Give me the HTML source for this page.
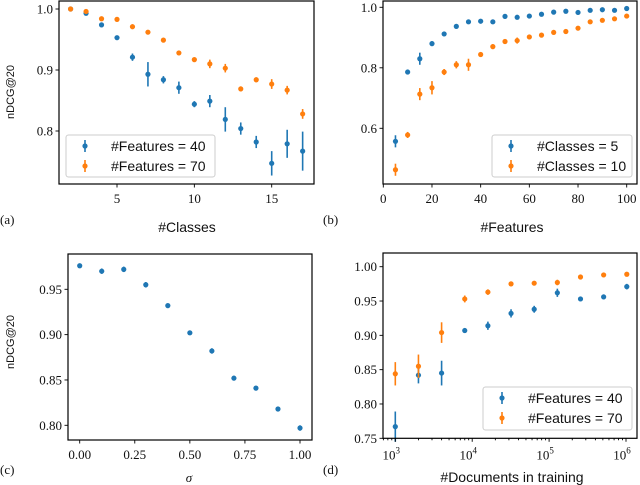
<!DOCTYPE html>
<html><head><meta charset="utf-8"><style>
html,body{margin:0;padding:0;background:#fff}
svg{display:block}
text{fill:#111}
.tk{font-family:"Liberation Serif",serif;font-size:13px}
.sn{font-family:"Liberation Sans",sans-serif}
</style></head><body>
<svg id="fig" width="640" height="485" viewBox="0 0 640 485" xmlns="http://www.w3.org/2000/svg"></svg>
<script>
// Panel a
const aX = [2,3,4,5,6,7,8,9,10,11,12,13,14,15,16,17];
const aBlue = [1.0,0.993,0.974,0.953,0.921,0.893,0.884,0.871,0.844,0.849,0.819,0.804,0.782,0.747,0.779,0.767];
const aBlueErr = [0.002,0.003,0.002,0.002,0.006,0.02,0.006,0.01,0.005,0.01,0.02,0.01,0.01,0.02,0.023,0.032];
const aOrange = [1.0,0.996,0.984,0.983,0.971,0.962,0.949,0.928,0.917,0.910,0.903,0.869,0.884,0.877,0.867,0.828];
const aOrangeErr = [0.002,0.003,0.003,0.002,0.004,0.003,0.002,0.003,0.003,0.007,0.007,0.004,0.004,0.008,0.007,0.008];
const aXTicks = [5,10,15];
const aYTicks = ["0.8","0.9","1.0"];
// Panel b
const bX = [5,10,15,20,25,30,35,40,45,50,55,60,65,70,75,80,85,90,95,100];
const bBlue = [0.557,0.786,0.830,0.880,0.912,0.937,0.952,0.954,0.952,0.970,0.967,0.971,0.977,0.984,0.987,0.983,0.990,0.992,0.990,0.996];
const bBlueErr = [0.02,0.008,0.02,0.008,0.003,0.003,0.003,0.003,0.003,0.003,0.003,0.003,0.003,0.003,0.003,0.003,0.003,0.003,0.003,0.003];
const bOrange = [0.463,0.578,0.713,0.734,0.786,0.810,0.810,0.844,0.870,0.887,0.890,0.902,0.908,0.917,0.920,0.931,0.952,0.957,0.962,0.971];
const bOrangeErr = [0.02,0.01,0.02,0.022,0.01,0.012,0.02,0.004,0.008,0.004,0.01,0.004,0.005,0.004,0.005,0.004,0.004,0.004,0.004,0.004];
const bXTicks = [0,20,40,60,80,100];
const bYTicks = ["0.6","0.8","1.0"];
// Panel c
const cX = [0,0.1,0.2,0.3,0.4,0.5,0.6,0.7,0.8,0.9,1.0];
const cBlue = [0.976,0.970,0.972,0.955,0.932,0.902,0.882,0.852,0.841,0.818,0.797];
const cBlueErr = [0.002,0.003,0.003,0.003,0.002,0.002,0.003,0.002,0.002,0.002,0.003];
const cXTicks = ["0.00","0.25","0.50","0.75","1.00"];
const cYTicks = ["0.80","0.85","0.90","0.95"];
// Panel d
const dX = [1000,2000,4000,8000,16000,32000,64000,128000,256000,512000,1024000];
const dBlue = [0.767,0.842,0.845,0.907,0.914,0.932,0.938,0.962,0.953,0.956,0.971];
const dBlueErr = [0.022,0.012,0.018,0.003,0.006,0.006,0.005,0.006,0.003,0.003,0.004];
const dOrange = [0.844,0.855,0.904,0.953,0.963,0.975,0.976,0.977,0.985,0.988,0.989];
const dOrangeErr = [0.017,0.017,0.015,0.005,0.004,0.002,0.003,0.004,0.002,0.002,0.002];
const dXTicks = [3,4,5,6];
const dYTicks = ["0.75","0.80","0.85","0.90","0.95","1.00"];

const NS="http://www.w3.org/2000/svg";
const svg=document.getElementById('fig');
const BLUE="#1f77b4", ORANGE="#ff7f0e";
function mk(tag,attrs,parent){const e=document.createElementNS(NS,tag);for(const k in attrs)e.setAttribute(k,attrs[k]);(parent||svg).appendChild(e);return e;}
function lin(d0,d1,r0,r1){return v=>r0+(v-d0)*(r1-r0)/(d1-d0);}

function series(g,xs,ys,es,sx,sy,color,name){
  xs.forEach((x,i)=>{
    const cx=sx(x), cy=sy(ys[i]);
    const l=mk('line',{x1:cx,x2:cx,y1:sy(ys[i]-es[i]),y2:sy(ys[i]+es[i]),stroke:color,'stroke-width':1.6},g);
    
    
    const c=mk('circle',{cx:cx,cy:cy,r:2.6,fill:color},g);
    
    
  });
}
function frame(g,x0,y0,x1,y1){
  const r=mk('rect',{x:x0,y:y0,width:x1-x0,height:y1-y0,fill:'none',stroke:'#000','stroke-width':1.2},g);
  
  
}
function xtick(g,x,yb,label,len){
  mk('line',{x1:x,x2:x,y1:yb,y2:yb+(len||3.5),stroke:'#000','stroke-width':0.9},g);
  if(label!==null){const t=mk('text',{x:x,y:yb+19,'text-anchor':'middle',class:'tk'},g);t.textContent=label;
  }
}
function ytick(g,y,xl,label){
  mk('line',{x1:xl-3.5,x2:xl,y1:y,y2:y,stroke:'#000','stroke-width':0.9},g);
  const t=mk('text',{x:xl-6,y:y+4.5,'text-anchor':'end',class:'tk'},g);t.textContent=label;
  
}
function text(g,x,y,s,cls,name,extra){
  const t=mk('text',Object.assign({x:x,y:y,class:cls},extra||{}),g);t.textContent=s;
  return t;
}
function legend(g,x0,y0,x1,y1,labels){
  const r=mk('rect',{x:x0,y:y0,width:x1-x0,height:y1-y0,rx:2.5,fill:'#fff','fill-opacity':0.8,stroke:'#ccc','stroke-width':1},g);
  
  const cols=[BLUE,ORANGE];
  labels.forEach((lb,i)=>{
    const cy=y0+11+i*20, cx=x0+19;
    const e=mk('g',{},g);
    
    
    mk('line',{x1:cx,x2:cx,y1:cy-6,y2:cy+6,stroke:cols[i],'stroke-width':1.6},e);
    mk('circle',{cx:cx,cy:cy,r:2.6,fill:cols[i]},e);
    text(e,x0+45,cy+5,lb,'sn','legend-label',{'font-size':'14px'});
  });
}

// ---------- Panel a ----------
{
const g=mk('g',{});
const X0=59,X1=314,Y0=1,Y1=184;
const sx=lin(5,15,117,271.7), sy=lin(1.0,0.8,9,131);
series(g,aX,aBlue,aBlueErr,sx,sy,BLUE,'a-features-40');
series(g,aX,aOrange,aOrangeErr,sx,sy,ORANGE,'a-features-70');
frame(g,X0,Y0,X1,Y1);
aXTicks.forEach(t=>xtick(g,sx(t),Y1,String(t)));
aYTicks.forEach(t=>ytick(g,sy(parseFloat(t)),X0,t));
legend(g,66,135,215,177,["#Features = 40","#Features = 70"]);
text(g,187,232,"#Classes",'sn','x-axis-title',{'text-anchor':'middle','font-size':'14px'});
text(g,14,92,"nDCG@20",'sn','y-axis-title',{'text-anchor':'middle','font-size':'11px',transform:'rotate(-90 14 92)'});
text(g,0,224,"(a)",'tk','panel-label',{'font-size':'13px'});
}
// ---------- Panel b ----------
{
const g=mk('g',{});
const X0=383,X1=637,Y0=1,Y1=184;
const sx=lin(0,100,383.3,626.7), sy=lin(1.0,0.6,7.3,128.3);
series(g,bX,bBlue,bBlueErr,sx,sy,BLUE,'b-classes-5');
series(g,bX,bOrange,bOrangeErr,sx,sy,ORANGE,'b-classes-10');
frame(g,X0,Y0,X1,Y1);
bXTicks.forEach(t=>xtick(g,sx(t),Y1,String(t)));
bYTicks.forEach(t=>ytick(g,sy(parseFloat(t)),X0,t));
legend(g,492,135,632,177,["#Classes = 5","#Classes = 10"]);
text(g,512,232,"#Features",'sn','x-axis-title',{'text-anchor':'middle','font-size':'14px'});
text(g,323,224,"(b)",'tk','panel-label',{'font-size':'13px'});
}
// ---------- Panel c ----------
{
const g=mk('g',{});
const X0=68,X1=312,Y0=254,Y1=440;
const sx=lin(0,1,79.7,300), sy=lin(0.95,0.80,289.3,425.3);
series(g,cX,cBlue,cBlueErr,sx,sy,BLUE,'c-sigma');
frame(g,X0,Y0,X1,Y1);
cXTicks.forEach(t=>xtick(g,sx(parseFloat(t)),Y1,t));
cYTicks.forEach(t=>ytick(g,sy(parseFloat(t)),X0,t));
text(g,189,482,"σ",'tk','x-axis-title',{'text-anchor':'middle','font-size':'13px','font-style':'italic'});
text(g,14,342,"nDCG@20",'sn','y-axis-title',{'text-anchor':'middle','font-size':'11px',transform:'rotate(-90 14 342)'});
text(g,0,474,"(c)",'tk','panel-label',{'font-size':'13px'});
}
// ---------- Panel d ----------
{
const g=mk('g',{});
const X0=383,X1=637,Y0=253,Y1=438.3;
const lx=lin(3,6,395.3,626), sx=v=>lx(Math.log10(v)), sy=lin(1.0,0.75,266.7,438.3);
series(g,dX,dBlue,dBlueErr,sx,sy,BLUE,'d-features-40');
series(g,dX,dOrange,dOrangeErr,sx,sy,ORANGE,'d-features-70');
frame(g,X0,Y0,X1,Y1);
for(let d=2;d<=6;d++)for(let m=2;m<=9;m++){const x=lx(d+Math.log10(m));if(x>X0&&x<X1)xtick(g,x,Y1,null,2);}
dXTicks.forEach(t=>{xtick(g,lx(t),Y1,null);
  const tt=text(g,lx(t)-4,Y1+21,"10",'tk','x-tick-label',{'text-anchor':'middle'});
  const s=mk('tspan',{dy:-6,'font-size':'9px'},tt);s.textContent=String(t);});
dYTicks.forEach(t=>ytick(g,sy(parseFloat(t)),X0,t));
legend(g,483,387,632,430,["#Features = 40","#Features = 70"]);
text(g,512,482,"#Documents in training",'sn','x-axis-title',{'text-anchor':'middle','font-size':'14px'});
text(g,323,474,"(d)",'tk','panel-label',{'font-size':'13px'});
}
</script>
</body></html>
